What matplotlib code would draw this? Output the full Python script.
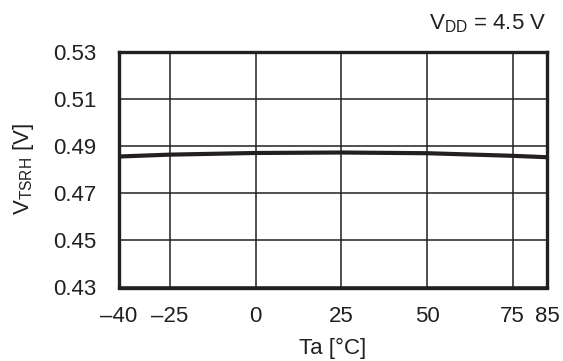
import matplotlib
matplotlib.use("Agg")
import matplotlib.pyplot as plt

plt.rcParams['font.family'] = ['Liberation Sans', 'DejaVu Sans']
plt.rcParams['mathtext.fontset'] = 'custom'
plt.rcParams['mathtext.rm'] = 'Liberation Sans'

# Threshold voltage vs ambient temperature
temp_c = [-40, -25, 0, 25, 50, 75, 85]
v_tsrh = [0.4855, 0.4863, 0.4870, 0.4872, 0.4869, 0.4858, 0.4852]

x_ticks = [-40, -25, 0, 25, 50, 75, 85]
x_tick_labels = ['\u201340', '\u201325', '0', '25', '50', '75', '85']
y_ticks = [0.43, 0.45, 0.47, 0.49, 0.51, 0.53]
y_tick_labels = ['0.43', '0.45', '0.47', '0.49', '0.51', '0.53']

FS = 16
ink = '#231f20'

fig = plt.figure(figsize=(5.63, 3.61), dpi=100)
ax = fig.add_axes([118.5 / 563, 1 - 287.5 / 361, (547 - 118.5) / 563, (287.5 - 51.5) / 361])

ax.plot(temp_c, v_tsrh, color=ink, linewidth=3.0, solid_capstyle='butt', zorder=3)

ax.set_xlim(-40, 85)
ax.set_ylim(0.43, 0.53)
ax.set_xticks(x_ticks)
ax.set_xticklabels(x_tick_labels)
ax.set_yticks(y_ticks)
ax.set_yticklabels(y_tick_labels)
ax.tick_params(length=0, labelsize=FS, colors=ink)
ax.tick_params(axis='y', pad=16)
ax.tick_params(axis='x', pad=13)

ax.grid(True, color=ink, linewidth=1.1)
ax.set_axisbelow(True)
for s in ax.spines.values():
    s.set_linewidth(2.4)
    s.set_color(ink)

ax.set_xlabel('Ta [\u00b0C]', fontsize=FS, color=ink, labelpad=8)
ax.set_ylabel(r'V$_{\mathregular{TSRH}}$ [V]', fontsize=FS, color=ink, labelpad=12)
fig.text(546 / 563, 1 - 24 / 361, r'V$_{\mathregular{DD}}$ = 4.5 V', fontsize=FS,
         color=ink, ha='right', va='center')

fig.savefig('out.png', dpi=100, facecolor='white')
